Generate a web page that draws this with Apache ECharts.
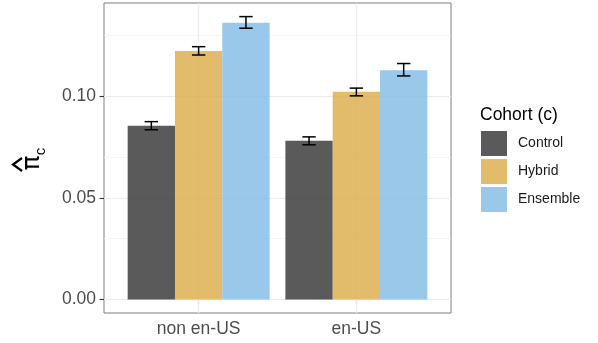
<!DOCTYPE html>
<html><head><meta charset="utf-8">
<script src="https://cdn.jsdelivr.net/npm/echarts@6/dist/echarts.min.js"></script>
<style>html,body{margin:0;padding:0;background:#fff}#c{width:598px;height:343px}</style>
</head><body><div id="c"></div>
<script>
const categories = ['non en-US', 'en-US'];
const cohorts = ['Control', 'Hybrid', 'Ensemble'];
const controlVals = [0.0856, 0.0782];
const controlLo   = [0.0836, 0.0762];
const controlHi   = [0.0876, 0.0801];
const hybridVals  = [0.1224, 0.1023];
const hybridLo    = [0.1204, 0.1003];
const hybridHi    = [0.1245, 0.1041];
const ensembleVals = [0.1363, 0.1129];
const ensembleLo   = [0.1336, 0.1101];
const ensembleHi   = [0.1393, 0.1162];
const yTicks = [0, 0.05, 0.10];
const yMinor = [0.025, 0.075, 0.125];
const xTicks = [1, 2];

const FONT = '"Liberation Sans", Arial, Helvetica, sans-serif';
const barW = 0.3, capW = 0.085;
const colors = ['#313131', '#dcab46', '#81bae6'];

function makeSeries(name, idx, vals, lo, hi, color) {
  return {
    type: 'custom', name: name, z: 3,
    itemStyle: { color: color, opacity: 0.8 },
    data: categories.map((c, i) => [i + 1, vals[i], lo[i], hi[i]]),
    encode: { x: 0, y: 1 },
    renderItem: function (params, api) {
      const x = api.value(0) + (idx - 1) * barW;
      const p0 = api.coord([x - barW / 2, 0]);
      const p1 = api.coord([x + barW / 2, api.value(1)]);
      const pl = api.coord([x, api.value(2)]);
      const ph = api.coord([x, api.value(3)]);
      const cl = api.coord([x - capW / 2, 0])[0];
      const cr = api.coord([x + capW / 2, 0])[0];
      const ls = { stroke: '#000', lineWidth: 1.5 };
      return { type: 'group', children: [
        { type: 'rect', shape: { x: p0[0], y: p1[1], width: p1[0] - p0[0], height: p0[1] - p1[1] }, style: { fill: color, opacity: 0.8 } },
        { type: 'line', shape: { x1: pl[0], y1: pl[1], x2: ph[0], y2: ph[1] }, style: ls },
        { type: 'line', shape: { x1: cl, y1: pl[1], x2: cr, y2: pl[1] }, style: ls },
        { type: 'line', shape: { x1: cl, y1: ph[1], x2: cr, y2: ph[1] }, style: ls }
      ]};
    }
  };
}

const gridLines = [];
yTicks.forEach(v => gridLines.push({ yAxis: v, lineStyle: { color: '#ebebeb', width: 1.2, type: 'solid' } }));
yMinor.forEach(v => gridLines.push({ yAxis: v, lineStyle: { color: '#f3f3f3', width: 0.8, type: 'solid' } }));
xTicks.forEach(v => gridLines.push({ xAxis: v, lineStyle: { color: '#ebebeb', width: 1.2, type: 'solid' } }));

const chart = echarts.init(document.getElementById('c'), null, { renderer: 'canvas' });
chart.setOption({
  animation: false,
  backgroundColor: '#fff',
  grid: { left: 104, top: 3, width: 347, height: 310, show: true, borderColor: '#7f7f7f', borderWidth: 1, backgroundColor: 'transparent' },
  title: { text: 'Cohort (c)', left: 480, top: 106, padding: 0, textStyle: { fontSize: 17.5, fontWeight: 'normal', color: '#000', fontFamily: FONT } },
  legend: {
    data: cohorts, orient: 'vertical', left: 481, top: 131, itemWidth: 26, itemHeight: 25, itemGap: 3,
    icon: 'rect', selectedMode: false, padding: 0,
    textStyle: { fontSize: 14, color: '#1a1a1a', fontFamily: FONT, padding: [0, 0, 0, 6] }
  },
  xAxis: {
    type: 'value', min: 0.4, max: 2.6,
    axisLine: { show: false }, splitLine: { show: false },
    axisTick: { show: true, customValues: xTicks, length: 4.5, lineStyle: { color: '#333', width: 1.1 } },
    axisLabel: { customValues: xTicks, formatter: v => categories[Math.round(v) - 1], fontSize: 17.5, color: '#4d4d4d', fontFamily: FONT, margin: 7 }
  },
  yAxis: {
    type: 'value', min: -0.0066, max: 0.146,
    axisLine: { show: false }, splitLine: { show: false },
    axisTick: { show: true, customValues: yTicks, length: 4.5, lineStyle: { color: '#333', width: 1.1 } },
    axisLabel: { customValues: yTicks, formatter: v => v.toFixed(2), fontSize: 17.5, color: '#4d4d4d', fontFamily: FONT, margin: 8 }
  },
  graphic: [{
    type: 'group', x: 31, y: 162, rotation: Math.PI / 2,
    children: [
      { type: 'text', x: -1, y: 1, style: { text: 'π', fontSize: 25, fontFamily: '"DejaVu Sans", sans-serif', align: 'center', verticalAlign: 'middle', fill: '#000' } },
      { type: 'text', x: 10.5, y: 10, style: { text: 'c', fontSize: 15, fontFamily: FONT, align: 'center', verticalAlign: 'middle', fill: '#000' } },
      { type: 'polyline', shape: { points: [[-9, -9], [-2.5, -18], [4, -9]] }, style: { stroke: '#000', lineWidth: 2.2, fill: null } }
    ]
  }],
  series: [
    { type: 'line', data: [], z: 1, silent: true, markLine: { z: 1, silent: true, symbol: 'none', label: { show: false }, animation: false, data: gridLines } },
    makeSeries('Control', 0, controlVals, controlLo, controlHi, colors[0]),
    makeSeries('Hybrid', 1, hybridVals, hybridLo, hybridHi, colors[1]),
    makeSeries('Ensemble', 2, ensembleVals, ensembleLo, ensembleHi, colors[2])
  ]
});
</script></body></html>
